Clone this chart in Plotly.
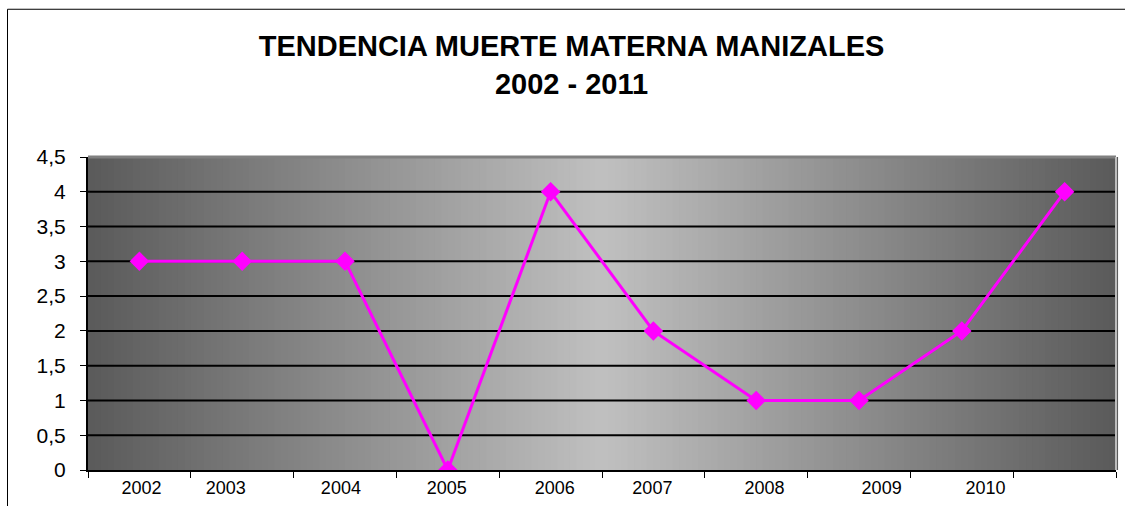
import plotly.graph_objects as go

# Maternal deaths per year, Manizales
years = ["2002", "2003", "2004", "2005", "2006", "2007", "2008", "2009", "2010", "2011"]
deaths = [3, 3, 3, 0, 4, 2, 1, 1, 2, 4]

# Year captions along the bottom axis (2011 has no caption)
caption_years = ["2002", "2003", "2004", "2005", "2006", "2007", "2008", "2009", "2010"]
caption_at = [0.02, 0.84, 1.96, 2.99, 4.04, 4.99, 6.08, 7.22, 8.23]

y_ticks = [0, 0.5, 1, 1.5, 2, 2.5, 3, 3.5, 4, 4.5]

FONT = "Liberation Sans, Arial, sans-serif"
idx = list(range(len(years)))
x_range = [-0.5, len(years) - 0.5]
boundaries = [i - 0.5 for i in range(len(years) + 1)]

fig = go.Figure()

fig.add_trace(go.Scatter(
    x=idx, y=deaths, mode="lines+markers",
    line=dict(color="#FF00FF", width=3),
    marker=dict(symbol="diamond", size=15, color="#FF00FF"),
    hovertext=years, showlegend=False,
))
# carrier trace for the caption axis
fig.add_trace(go.Scatter(x=[caption_at[0]], y=[0], xaxis="x2", mode="markers",
                         marker=dict(opacity=0), showlegend=False, hoverinfo="skip"))

# horizontal grey gradient behind the plot: dark at the edges, light in the middle
shapes = []
n = 160
dark, light = 90, 192
for i in range(n):
    t = (i + 0.5) / n
    k = 1 - abs(2 * t - 1)
    v = round(dark + (light - dark) * k)
    shapes.append(dict(type="rect", xref="x domain", yref="y domain",
                       x0=i / n, x1=(i + 1) / n + 0.002, y0=0, y1=1,
                       fillcolor=f"rgb({v},{v},{v})", line=dict(width=0), layer="below"))
# black horizontal gridlines at the inner ticks
for yv in y_ticks[1:-1]:
    shapes.append(dict(type="line", xref="x domain", yref="y", x0=0, x1=1, y0=yv, y1=yv,
                       line=dict(color="black", width=2), layer="below"))
# soft top and right edges of the plotting area
shapes.append(dict(type="line", xref="x domain", yref="y domain", x0=0, x1=1, y0=1, y1=1,
                   line=dict(color="#808080", width=3), layer="below"))
shapes.append(dict(type="line", xref="x domain", yref="y domain", x0=1, x1=1, y0=0, y1=1,
                   line=dict(color="#BDBDBD", width=2), layer="below"))
# chart frame (left and top edges)
shapes.append(dict(type="line", xref="paper", yref="paper",
                   x0=-0.0783, x1=-0.0783, y0=-0.2, y1=1.472,
                   line=dict(color="#000000", width=1)))
shapes.append(dict(type="line", xref="paper", yref="paper",
                   x0=-0.0783, x1=1.02, y0=1.472, y1=1.472,
                   line=dict(color="#000000", width=1)))

fig.update_layout(
    width=1125, height=506,
    margin=dict(l=88, r=9, t=157, b=36),
    paper_bgcolor="white", plot_bgcolor="#5a5a5a",
    separators=",.",
    font=dict(family=FONT, color="black"),
    title=dict(text="<b>TENDENCIA MUERTE MATERNA MANIZALES<br>2002 - 2011</b>",
               font=dict(family=FONT, size=29, color="black"),
               x=0.508, xanchor="center", xref="container",
               y=1 - 56 / 506, yanchor="middle", yref="container"),
    shapes=shapes,
    xaxis=dict(range=x_range, tickmode="array", tickvals=boundaries,
               showticklabels=False, ticks="outside", ticklen=6, tickwidth=1,
               tickcolor="black", showgrid=False, zeroline=False,
               showline=True, linecolor="black", linewidth=2),
    xaxis2=dict(range=x_range, overlaying="x", anchor="y", side="bottom",
                tickmode="array", tickvals=caption_at, ticktext=caption_years,
                ticks="", showgrid=False, zeroline=False, showline=False,
                tickfont=dict(family=FONT, size=18, color="black"),
                ticklabelstandoff=5),
    yaxis=dict(range=[0, 4.5], tickmode="array", tickvals=y_ticks,
               ticks="outside", ticklen=6, tickwidth=1, tickcolor="black",
               showgrid=False, zeroline=False,
               showline=True, linecolor="black", linewidth=2,
               tickfont=dict(family=FONT, size=21, color="black"),
               ticklabelstandoff=10),
)

fig.write_html("out.html")
